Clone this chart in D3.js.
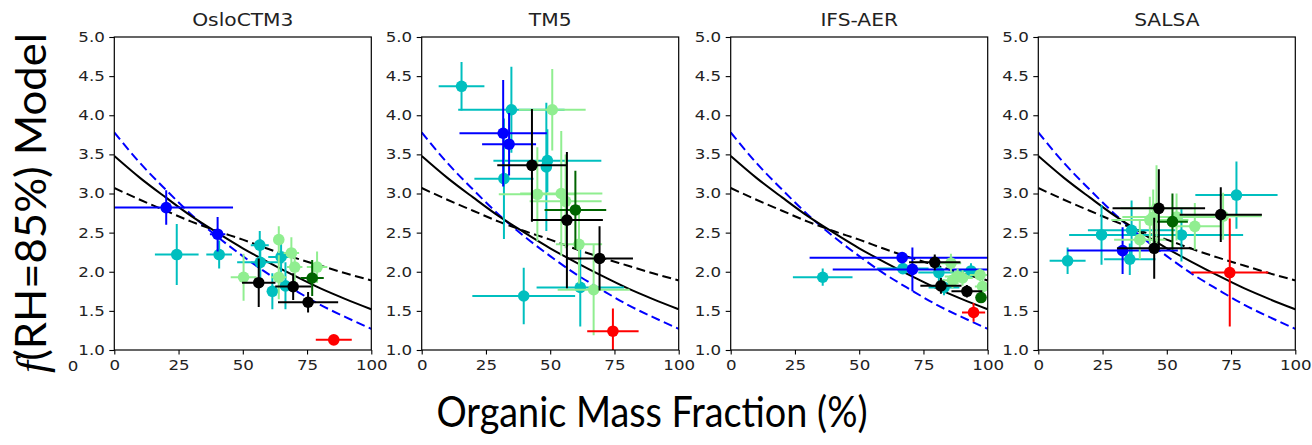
<!DOCTYPE html>
<html><head><meta charset="utf-8">
<script src="https://cdn.jsdelivr.net/npm/d3@7"></script>
<style>body{margin:0;background:#fff}svg{display:block}</style>
</head><body><svg id="c" width="1312" height="445"></svg>
<script>
// ---------------- data ----------------
const panelNames = ["OsloCTM3", "TM5", "IFS-AER", "SALSA"];
const xTicks = [0, 25, 50, 75, 100];
const yTicks = [1.0, 1.5, 2.0, 2.5, 3.0, 3.5, 4.0, 4.5, 5.0];
const groupOrder = ["cyan", "blue", "lightgreen", "darkgreen", "black", "red"];

// fitted curves sampled along organic mass fraction
const curveX     = [0, 10, 20, 30, 40, 50, 60, 70, 80, 90, 100];
const fitSolid   = [3.48, 3.20, 2.95, 2.71, 2.50, 2.30, 2.12, 1.95, 1.79, 1.65, 1.52];
const fitDashed  = [3.07, 2.92, 2.78, 2.64, 2.52, 2.41, 2.29, 2.18, 2.08, 1.98, 1.89];
const fitBlue    = [3.78, 3.39, 3.05, 2.73, 2.45, 2.20, 1.97, 1.77, 1.58, 1.42, 1.27];

// points: [group, x, y, xerr, yerr]
const osloPoints = [
  ["cyan", 24.3, 2.22, 8.5, 0.39], ["cyan", 40.8, 2.22, 5, 0.18], ["cyan", 56.6, 2.34, 3.5, 0.18],
  ["cyan", 56.8, 2.12, 9, 0.3], ["cyan", 61.5, 1.75, 2, 0.23], ["cyan", 64.9, 2.19, 5, 0.2],
  ["cyan", 66.6, 1.82, 2, 0.3],
  ["blue", 20.2, 2.82, 26, 0.22], ["blue", 40.2, 2.48, 3, 0.22],
  ["lightgreen", 50.3, 1.93, 5, 0.3], ["lightgreen", 64.0, 2.41, 2, 0.17], ["lightgreen", 64.0, 1.93, 3, 0.28],
  ["lightgreen", 68.9, 2.24, 3, 0.2], ["lightgreen", 70.2, 2.06, 3, 0.2], ["lightgreen", 78.9, 2.06, 4, 0.2],
  ["darkgreen", 77.0, 1.92, 4.5, 0.23],
  ["black", 56.2, 1.86, 6.5, 0.31], ["black", 69.6, 1.81, 7, 0.17], ["black", 75.4, 1.61, 11.7, 0.13],
  ["red", 85.4, 1.13, 7, 0.03]
];
const tm5Points = [
  ["cyan", 15.5, 4.37, 8.9, 0.31], ["cyan", 34.9, 4.07, 20.7, 0.55], ["cyan", 32.0, 3.19, 11.5, 0.77],
  ["cyan", 39.7, 1.69, 20, 0.36], ["cyan", 48.9, 3.42, 21, 0.4], ["cyan", 48.5, 3.34, 2, 0.82],
  ["cyan", 61.7, 1.80, 17, 0.5],
  ["blue", 31.7, 3.77, 17, 0.68], ["blue", 34.0, 3.63, 10.5, 0.4],
  ["lightgreen", 50.8, 4.07, 13, 0.52], ["lightgreen", 45.0, 2.99, 15, 0.6], ["lightgreen", 54.3, 3.00, 16, 0.8],
  ["lightgreen", 56.0, 2.90, 14, 0.6], ["lightgreen", 61.2, 2.35, 9, 0.5], ["lightgreen", 66.9, 1.77, 14, 0.58],
  ["darkgreen", 59.8, 2.79, 12, 0.5],
  ["black", 42.9, 3.36, 13.5, 0.72], ["black", 56.5, 2.66, 14, 0.87], ["black", 69.2, 2.17, 13, 0.41],
  ["red", 74.4, 1.24, 10, 0.29]
];
const ifsPoints = [
  ["cyan", 35.8, 1.93, 11.6, 0.11], ["cyan", 67.0, 2.04, 10, 0.05], ["cyan", 81.0, 1.99, 8, 0.12],
  ["cyan", 93.5, 2.01, 5, 0.1], ["cyan", 83.0, 1.80, 6, 0.1],
  ["blue", 66.7, 2.18, 36, 0.05], ["blue", 70.7, 2.03, 31, 0.28],
  ["lightgreen", 85.7, 2.11, 4, 0.12], ["lightgreen", 88.3, 1.94, 5, 0.1], ["lightgreen", 86.3, 1.89, 5, 0.1],
  ["lightgreen", 90.2, 1.92, 4, 0.1], ["lightgreen", 97.0, 1.96, 4, 0.08], ["lightgreen", 98.0, 1.81, 3, 0.1],
  ["darkgreen", 97.4, 1.67, 2, 0.06],
  ["black", 79.4, 2.12, 10, 0.1], ["black", 81.8, 1.82, 8, 0.1], ["black", 91.9, 1.75, 6, 0.08],
  ["red", 94.5, 1.48, 4.5, 0.12]
];
const salsaPoints = [
  ["cyan", 11.4, 2.14, 7, 0.17], ["cyan", 24.6, 2.47, 12.6, 0.38], ["cyan", 35.6, 2.16, 10, 0.2],
  ["cyan", 36.3, 2.53, 17, 0.38], ["cyan", 55.7, 2.47, 24, 0.34], ["cyan", 77.1, 2.98, 16, 0.43],
  ["blue", 32.8, 2.27, 21.5, 0.3],
  ["lightgreen", 39.5, 2.41, 10, 0.25], ["lightgreen", 43.4, 2.66, 15, 0.3], ["lightgreen", 44.7, 2.70, 12, 0.35],
  ["lightgreen", 46.0, 2.81, 14, 0.55], ["lightgreen", 53.8, 2.70, 15, 0.3], ["lightgreen", 60.9, 2.58, 10, 0.3],
  ["lightgreen", 71.9, 2.71, 15, 0.3],
  ["darkgreen", 52.2, 2.64, 6, 0.36],
  ["black", 46.9, 2.81, 18, 0.5], ["black", 45.1, 2.30, 14.5, 0.39], ["black", 71.0, 2.73, 16, 0.35],
  ["red", 74.5, 1.99, 15, 0.69]
];
const panelPoints = [osloPoints, tm5Points, ifsPoints, salsaPoints];

// ---------------- drawing ----------------
const svg = d3.select("#c");
const colorScale = d3.scaleOrdinal().domain(groupOrder)
  .range(["#00bfbf", "#0000ff", "#90ee90", "#006400", "#000000", "#ff0000"]);

const panelLeft = [114.3, 421.7, 730.7, 1038.3];
const pw = 257, plotTop = 37, plotBottom = 350;
const SX = 1.19; // horizontal text stretch
const tickFont = "DejaVu Sans, sans-serif";

panelNames.forEach((name, i) => {
  const h = plotBottom - plotTop;
  const x = d3.scaleLinear().domain([0, 100]).range([0, pw]);
  const y = d3.scaleLinear().domain([1, 5]).range([h, 0]);
  const g = svg.append("g").attr("transform", `translate(${panelLeft[i]},${plotTop})`);

  g.append("rect").attr("width", pw).attr("height", h).attr("fill", "#fff");
  const clipId = "clip" + i;
  g.append("clipPath").attr("id", clipId).append("rect").attr("width", pw).attr("height", h);
  const plot = g.append("g").attr("clip-path", `url(#${clipId})`);

  // curves
  const line = d3.line().x(d => x(d[0])).y(d => y(d[1])).curve(d3.curveMonotoneX);
  plot.append("path").datum(curveX.map((v, k) => [v, fitBlue[k]]))
    .attr("d", line).attr("fill", "none").attr("stroke", "#0000ff").attr("stroke-width", 2)
    .attr("stroke-dasharray", "9,4.5");
  plot.append("path").datum(curveX.map((v, k) => [v, fitDashed[k]]))
    .attr("d", line).attr("fill", "none").attr("stroke", "#000").attr("stroke-width", 2)
    .attr("stroke-dasharray", "9,4.5");
  plot.append("path").datum(curveX.map((v, k) => [v, fitSolid[k]]))
    .attr("d", line).attr("fill", "none").attr("stroke", "#000").attr("stroke-width", 2);

  // points
  const pts = panelPoints[i].slice().sort((a, b) => groupOrder.indexOf(a[0]) - groupOrder.indexOf(b[0]));
  pts.forEach(p => {
    const [grp, px, py, xe, ye] = p;
    const c = colorScale(grp);
    const pg = plot.append("g");
    pg.append("line").attr("x1", x(px - xe)).attr("x2", x(px + xe)).attr("y1", y(py)).attr("y2", y(py))
      .attr("stroke", c).attr("stroke-width", 2);
    pg.append("line").attr("x1", x(px)).attr("x2", x(px)).attr("y1", y(py - ye)).attr("y2", y(py + ye))
      .attr("stroke", c).attr("stroke-width", 2);
    pg.append("circle").attr("cx", x(px)).attr("cy", y(py)).attr("r", 5.8).attr("fill", c);
  });

  // frame
  g.append("rect").attr("width", pw).attr("height", h).attr("fill", "none")
    .attr("stroke", "#000").attr("stroke-width", 1.2);

  // axes
  const ax = g.append("g").attr("transform", `translate(0,${h})`)
    .call(d3.axisBottom(x).tickValues(xTicks).tickSize(4.5).tickPadding(3).tickFormat(d3.format("d")));
  const ay = g.append("g")
    .call(d3.axisLeft(y).tickValues(yTicks).tickSize(5).tickPadding(3).tickFormat(d3.format(".1f")));
  [ax, ay].forEach(a => {
    a.select(".domain").remove();
    a.selectAll(".tick line").attr("stroke", "#000").attr("stroke-width", 1.1);
    a.selectAll(".tick text").attr("fill", "#222").style("font-family", tickFont).style("font-size", "14px");
  });
  ax.selectAll(".tick text").attr("transform", `scale(${SX},1)`).attr("dy", "0.9em");
  ay.selectAll(".tick text").attr("transform", `scale(${SX},1)`).attr("x", -9.5 / SX);

  // title
  g.append("text").attr("transform", `translate(${pw / 2},${26 - plotTop}) scale(${SX},1)`)
    .attr("text-anchor", "middle").style("font-family", tickFont).style("font-size", "17px")
    .attr("fill", "#222").text(name);
});

// stray tick fragment at far left
svg.append("text").attr("transform", `translate(73,371) scale(${SX},1)`).attr("text-anchor", "middle")
  .style("font-family", tickFont).style("font-size", "14px").attr("fill", "#222").text("0");

// axis labels
svg.append("text").attr("x", 652).attr("y", 427).attr("text-anchor", "middle")
  .attr("textLength", 431).attr("lengthAdjust", "spacingAndGlyphs")
  .style("font-family", "Lato, 'Open Sans', sans-serif").style("font-size", "43px").attr("fill", "#000")
  .text("Organic Mass Fraction (%)");

const yl = svg.append("text").attr("transform", "translate(46,203) rotate(-90)").attr("text-anchor", "middle")
  .attr("textLength", 340).attr("lengthAdjust", "spacingAndGlyphs")
  .style("font-family", "Lato, 'Open Sans', sans-serif").style("font-size", "43px").attr("fill", "#000");
yl.append("tspan").style("font-family", "'Liberation Serif', serif").style("font-style", "italic").text("f");
yl.append("tspan").text("(RH=85%) Model");
</script></body></html>
